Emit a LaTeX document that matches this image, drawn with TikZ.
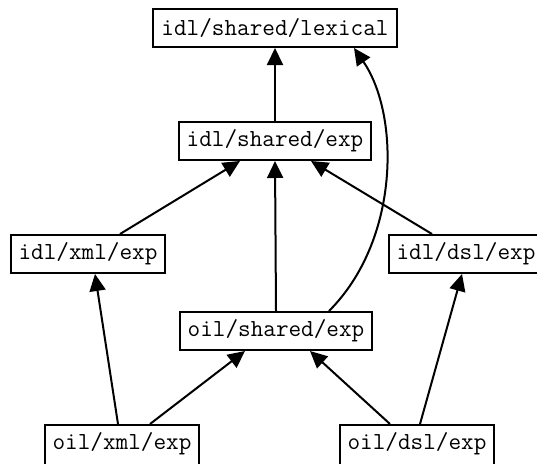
\documentclass[tikz,border=0pt]{standalone}
\usetikzlibrary{arrows.meta}
\begin{document}
\begin{tikzpicture}[x=1pt,y=-1pt,
  box/.style={draw,line width=2pt,fill=white,font=\fontsize{24.5}{28}\selectfont\ttfamily,inner xsep=8pt,minimum height=38pt,anchor=center},
  cutbox/.style={box,minimum height=0pt,inner ysep=7pt,text height=17pt,text depth=20pt,anchor=north},
  dep/.style={line width=2pt,-{Triangle[length=17pt,width=16pt]}}]
\useasboundingbox (0,0) rectangle (537,463);
\begin{scope}
\clip (0,0) rectangle (537,463);
\node[cutbox] (ox) at (122,424) {oil/xml/exp};
\node[cutbox] (od) at (417,424) {oil/dsl/exp};
\node[box] (lex) at (275,28) {idl/shared/lexical};
\node[box] (se) at (275,141) {idl/shared/exp};
\node[box] (ix) at (88,254) {idl/xml/exp};
\node[box] (id) at (466,254) {idl/dsl/exp};
\node[box] (os) at (276,331) {oil/shared/exp};
\draw[dep] (se.north) -- (lex.south);
\draw[dep] (os.north -| 329,0) .. controls (400,240) and (400,115) .. (lex.south east -| 354,0);
\draw[dep] (ix.north -| 120,0) -- (se.south -| 240,0);
\draw[dep] (id.north -| 432,0) -- (se.south -| 311,0);
\draw[dep] (os.north) -- (se.south);
\draw[dep] (ox.north -| 118,0) -- (ix.south -| 95,0);
\draw[dep] (ox.north -| 150,0) -- (os.south -| 245,0);
\draw[dep] (od.north -| 390,0) -- (os.south -| 310,0);
\draw[dep] (od.north -| 420,0) -- (id.south -| 462,0);
\end{scope}
\end{tikzpicture}
\end{document}
